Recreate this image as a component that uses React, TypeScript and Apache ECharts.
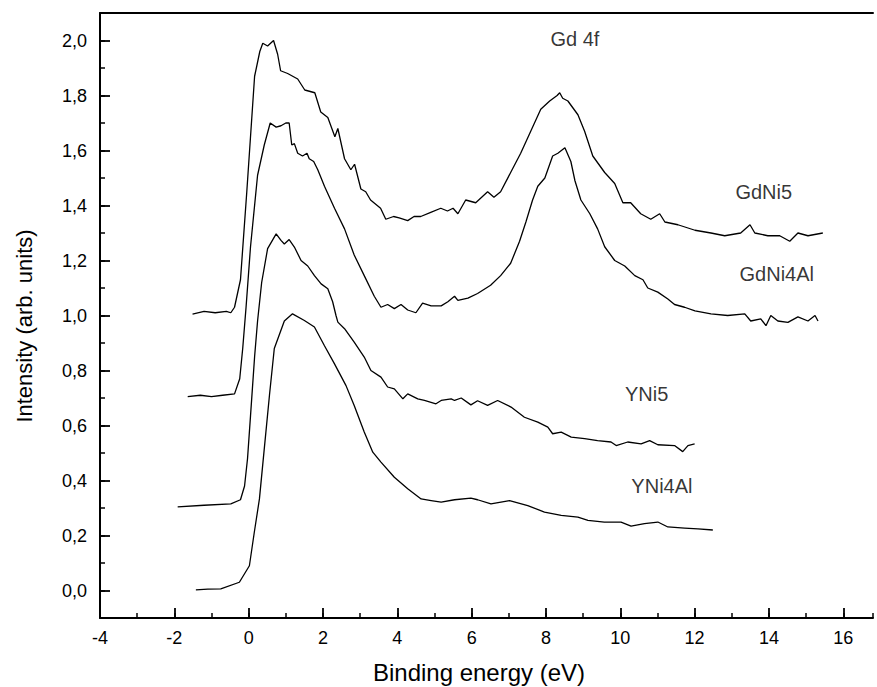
import React, { useEffect, useRef } from "react";
import * as echarts from "echarts";

const gdNi5: number[][] = [[-1.51,1.005],[-1.2,1.015],[-0.9,1.01],[-0.6,1.015],[-0.48,1.01],[-0.38,1.03],[-0.22,1.13],[-0.05,1.45],[0.16,1.87],[0.30,1.96],[0.38,1.99],[0.51,1.98],[0.67,2.0],[0.78,1.95],[0.86,1.89],[1.05,1.88],[1.32,1.86],[1.51,1.82],[1.78,1.81],[1.94,1.74],[2.13,1.72],[2.32,1.65],[2.40,1.68],[2.58,1.57],[2.75,1.53],[2.85,1.55],[3.02,1.46],[3.15,1.45],[3.28,1.42],[3.55,1.39],[3.69,1.35],[3.9,1.36],[4.05,1.355],[4.28,1.345],[4.45,1.36],[4.63,1.36],[4.9,1.375],[5.17,1.39],[5.35,1.38],[5.5,1.39],[5.63,1.37],[5.84,1.42],[6.11,1.41],[6.43,1.45],[6.6,1.43],[6.78,1.45],[7.05,1.52],[7.32,1.59],[7.59,1.67],[7.86,1.75],[8.10,1.78],[8.30,1.80],[8.37,1.81],[8.45,1.79],[8.59,1.78],[8.86,1.73],[9.04,1.67],[9.26,1.58],[9.58,1.52],[9.85,1.48],[10.07,1.41],[10.28,1.41],[10.55,1.37],[10.82,1.35],[11.06,1.37],[11.20,1.34],[11.55,1.33],[12.01,1.31],[12.44,1.30],[12.81,1.29],[13.24,1.30],[13.49,1.33],[13.62,1.30],[13.97,1.29],[14.29,1.29],[14.56,1.27],[14.78,1.30],[15.05,1.29],[15.45,1.30]];

const gdNi4Al: number[][] = [[-1.64,0.705],[-1.3,0.71],[-1.0,0.705],[-0.7,0.71],[-0.38,0.715],[-0.24,0.77],[-0.16,0.88],[-0.07,1.03],[0.05,1.25],[0.24,1.51],[0.42,1.62],[0.58,1.70],[0.74,1.685],[0.87,1.69],[1.00,1.70],[1.09,1.70],[1.16,1.62],[1.23,1.625],[1.32,1.59],[1.45,1.58],[1.57,1.59],[1.63,1.57],[1.75,1.56],[1.86,1.53],[2.04,1.47],[2.31,1.39],[2.58,1.315],[2.84,1.22],[3.11,1.145],[3.38,1.07],[3.56,1.03],[3.74,1.04],[3.92,1.025],[4.10,1.04],[4.28,1.02],[4.50,1.01],[4.68,1.045],[4.91,1.035],[5.18,1.035],[5.36,1.05],[5.54,1.07],[5.63,1.055],[5.90,1.063],[6.16,1.08],[6.51,1.11],[6.78,1.145],[7.05,1.19],[7.29,1.27],[7.46,1.34],[7.64,1.42],[7.78,1.47],[7.97,1.50],[8.18,1.58],[8.32,1.59],[8.51,1.61],[8.67,1.56],[8.78,1.49],[8.94,1.42],[9.18,1.37],[9.39,1.315],[9.58,1.25],[9.85,1.20],[10.12,1.18],[10.39,1.145],[10.61,1.13],[10.74,1.10],[11.01,1.085],[11.28,1.06],[11.46,1.04],[11.73,1.03],[12.01,1.017],[12.44,1.006],[12.89,1.0],[13.35,1.006],[13.51,0.98],[13.78,0.988],[13.92,0.963],[14.05,1.0],[14.24,0.98],[14.51,0.975],[14.78,0.995],[15.05,0.98],[15.24,1.0],[15.32,0.98]];

const yNi5: number[][] = [[-1.91,0.304],[-1.2,0.31],[-0.48,0.315],[-0.22,0.33],[-0.11,0.38],[-0.03,0.48],[0.05,0.635],[0.16,0.85],[0.24,0.98],[0.35,1.12],[0.51,1.243],[0.74,1.297],[0.87,1.273],[0.96,1.26],[1.09,1.276],[1.23,1.249],[1.41,1.20],[1.59,1.18],[1.77,1.145],[1.95,1.115],[2.13,1.097],[2.26,1.05],[2.35,1.0],[2.40,0.976],[2.58,0.952],[2.84,0.903],[3.11,0.849],[3.29,0.80],[3.56,0.776],[3.74,0.74],[3.92,0.733],[4.15,0.697],[4.28,0.715],[4.55,0.697],[4.73,0.691],[5.04,0.679],[5.18,0.691],[5.45,0.697],[5.54,0.691],[5.72,0.70],[5.98,0.675],[6.16,0.69],[6.43,0.673],[6.70,0.691],[7.06,0.667],[7.42,0.63],[7.78,0.612],[8.05,0.594],[8.18,0.57],[8.41,0.576],[8.68,0.558],[9.04,0.552],[9.39,0.545],[9.75,0.54],[9.89,0.527],[10.20,0.54],[10.56,0.533],[10.79,0.545],[11.01,0.53],[11.46,0.527],[11.68,0.505],[11.82,0.527],[12.0,0.533]];

const yNi4Al: number[][] = [[-1.42,0.0025],[-1.1,0.005],[-0.75,0.006],[-0.25,0.03],[0.02,0.09],[0.15,0.21],[0.29,0.333],[0.42,0.515],[0.56,0.71],[0.69,0.88],[0.96,0.98],[1.18,1.006],[1.50,0.982],[1.77,0.958],[2.04,0.89],[2.31,0.824],[2.62,0.745],[2.84,0.673],[3.11,0.576],[3.34,0.503],[3.56,0.467],[3.92,0.412],[4.28,0.37],[4.64,0.333],[4.91,0.327],[5.18,0.321],[5.54,0.33],[5.98,0.336],[6.16,0.33],[6.52,0.315],[7.02,0.327],[7.51,0.309],[7.96,0.285],[8.41,0.273],[8.86,0.267],[9.13,0.255],[9.57,0.249],[10.02,0.249],[10.29,0.234],[10.65,0.243],[11.01,0.249],[11.28,0.231],[11.73,0.227],[12.09,0.224],[12.49,0.22]];

const seriesNames = ["GdNi5", "GdNi4Al", "YNi5", "YNi4Al"];
const annotations = [
  { name: "Gd 4f", value: [8.78, 2.006] },
  { name: "GdNi5", value: [13.86, 1.45] },
  { name: "GdNi4Al", value: [14.21, 1.151] },
  { name: "YNi5", value: [10.71, 0.715] },
  { name: "YNi4Al", value: [11.12, 0.381] },
];

const xTitle = "Binding energy (eV)";
const yTitle = "Intensity (arb. units)";
const FONT = "Liberation Sans, Arial, sans-serif";

export default function App() {
  const ref = useRef<HTMLDivElement>(null);
  useEffect(() => {
    if (!ref.current) return;
    const chart = echarts.init(ref.current, undefined, { renderer: "svg" });
    const lineSeries = [gdNi5, gdNi4Al, yNi5, yNi4Al].map((d, i) => ({
      name: seriesNames[i],
      type: "line",
      data: d,
      showSymbol: false,
      symbol: "none",
      xAxisIndex: 0,
      yAxisIndex: 0,
      lineStyle: { color: "#000", width: 1.3 },
      z: 3,
    }));
    chart.setOption({
      animation: false,
      backgroundColor: "#fff",
      textStyle: { fontFamily: FONT, color: "#000" },
      grid: { left: 100, top: 13, right: 4, bottom: 69, containLabel: false },
      graphic: [
        {
          type: "text",
          x: 479,
          y: 672,
          style: {
            text: xTitle,
            fontFamily: FONT,
            fontSize: 24,
            fill: "#000",
            textAlign: "center",
            textVerticalAlign: "middle",
          },
        },
        {
          type: "text",
          x: 24,
          y: 326,
          rotation: Math.PI / 2,
          style: {
            text: yTitle,
            fontFamily: FONT,
            fontSize: 22,
            fill: "#000",
            textAlign: "center",
            textVerticalAlign: "middle",
          },
        },
      ],
      xAxis: [
        {
          type: "value",
          position: "bottom",
          min: -4,
          max: 16.8,
          interval: 2,
          axisLine: { show: true, onZero: false, lineStyle: { color: "#000", width: 2 } },
          axisTick: { show: true, inside: true, length: 10, lineStyle: { color: "#000", width: 1.8 } },
          axisLabel: { showMaxLabel: false, margin: 11, fontFamily: FONT, fontSize: 18, color: "#000" },
          splitLine: { show: false },
        },
        {
          type: "value",
          position: "bottom",
          min: -4,
          max: 16.8,
          interval: 1,
          axisLine: { show: false, onZero: false },
          axisTick: { show: true, inside: true, length: 5, lineStyle: { color: "#000", width: 1.5 } },
          axisLabel: { show: false },
          splitLine: { show: false },
        },
        {
          type: "value",
          position: "top",
          min: -4,
          max: 16.8,
          axisLine: { show: true, onZero: false, lineStyle: { color: "#000", width: 2 } },
          axisTick: { show: false },
          axisLabel: { show: false },
          splitLine: { show: false },
        },
      ],
      yAxis: [
        {
          type: "value",
          position: "left",
          min: -0.1,
          max: 2.1,
          splitNumber: 11,
          axisLine: { show: true, onZero: false, lineStyle: { color: "#000", width: 2 } },
          axisTick: { show: true, inside: true, length: 10, lineStyle: { color: "#000", width: 1.8 } },
          axisLabel: {
            showMinLabel: false,
            showMaxLabel: false,
            margin: 13,
            fontFamily: FONT,
            fontSize: 18,
            color: "#000",
            formatter: (v: number) => v.toFixed(1).replace(".", ","),
          },
          splitLine: { show: false },
        },
        {
          type: "value",
          position: "left",
          min: -0.1,
          max: 2.1,
          interval: 0.1,
          axisLine: { show: false, onZero: false },
          axisTick: { show: true, inside: true, length: 5, lineStyle: { color: "#000", width: 1.5 } },
          axisLabel: { show: false },
          splitLine: { show: false },
        },
      ],
      series: [
        ...lineSeries,
        {
          type: "scatter",
          xAxisIndex: 0,
          yAxisIndex: 0,
          symbolSize: 0,
          data: annotations,
          silent: true,
          label: {
            show: true,
            position: "inside",
            formatter: (p: any) => p.name,
            fontFamily: FONT,
            fontSize: 20,
            color: "#000",
          },
          z: 4,
        },
      ],
    });
    return () => chart.dispose();
  }, []);
  return (
    <div
      ref={ref}
      style={{ position: "fixed", left: 0, top: 0, width: 877, height: 687, background: "#fff" }}
    />
  );
}
